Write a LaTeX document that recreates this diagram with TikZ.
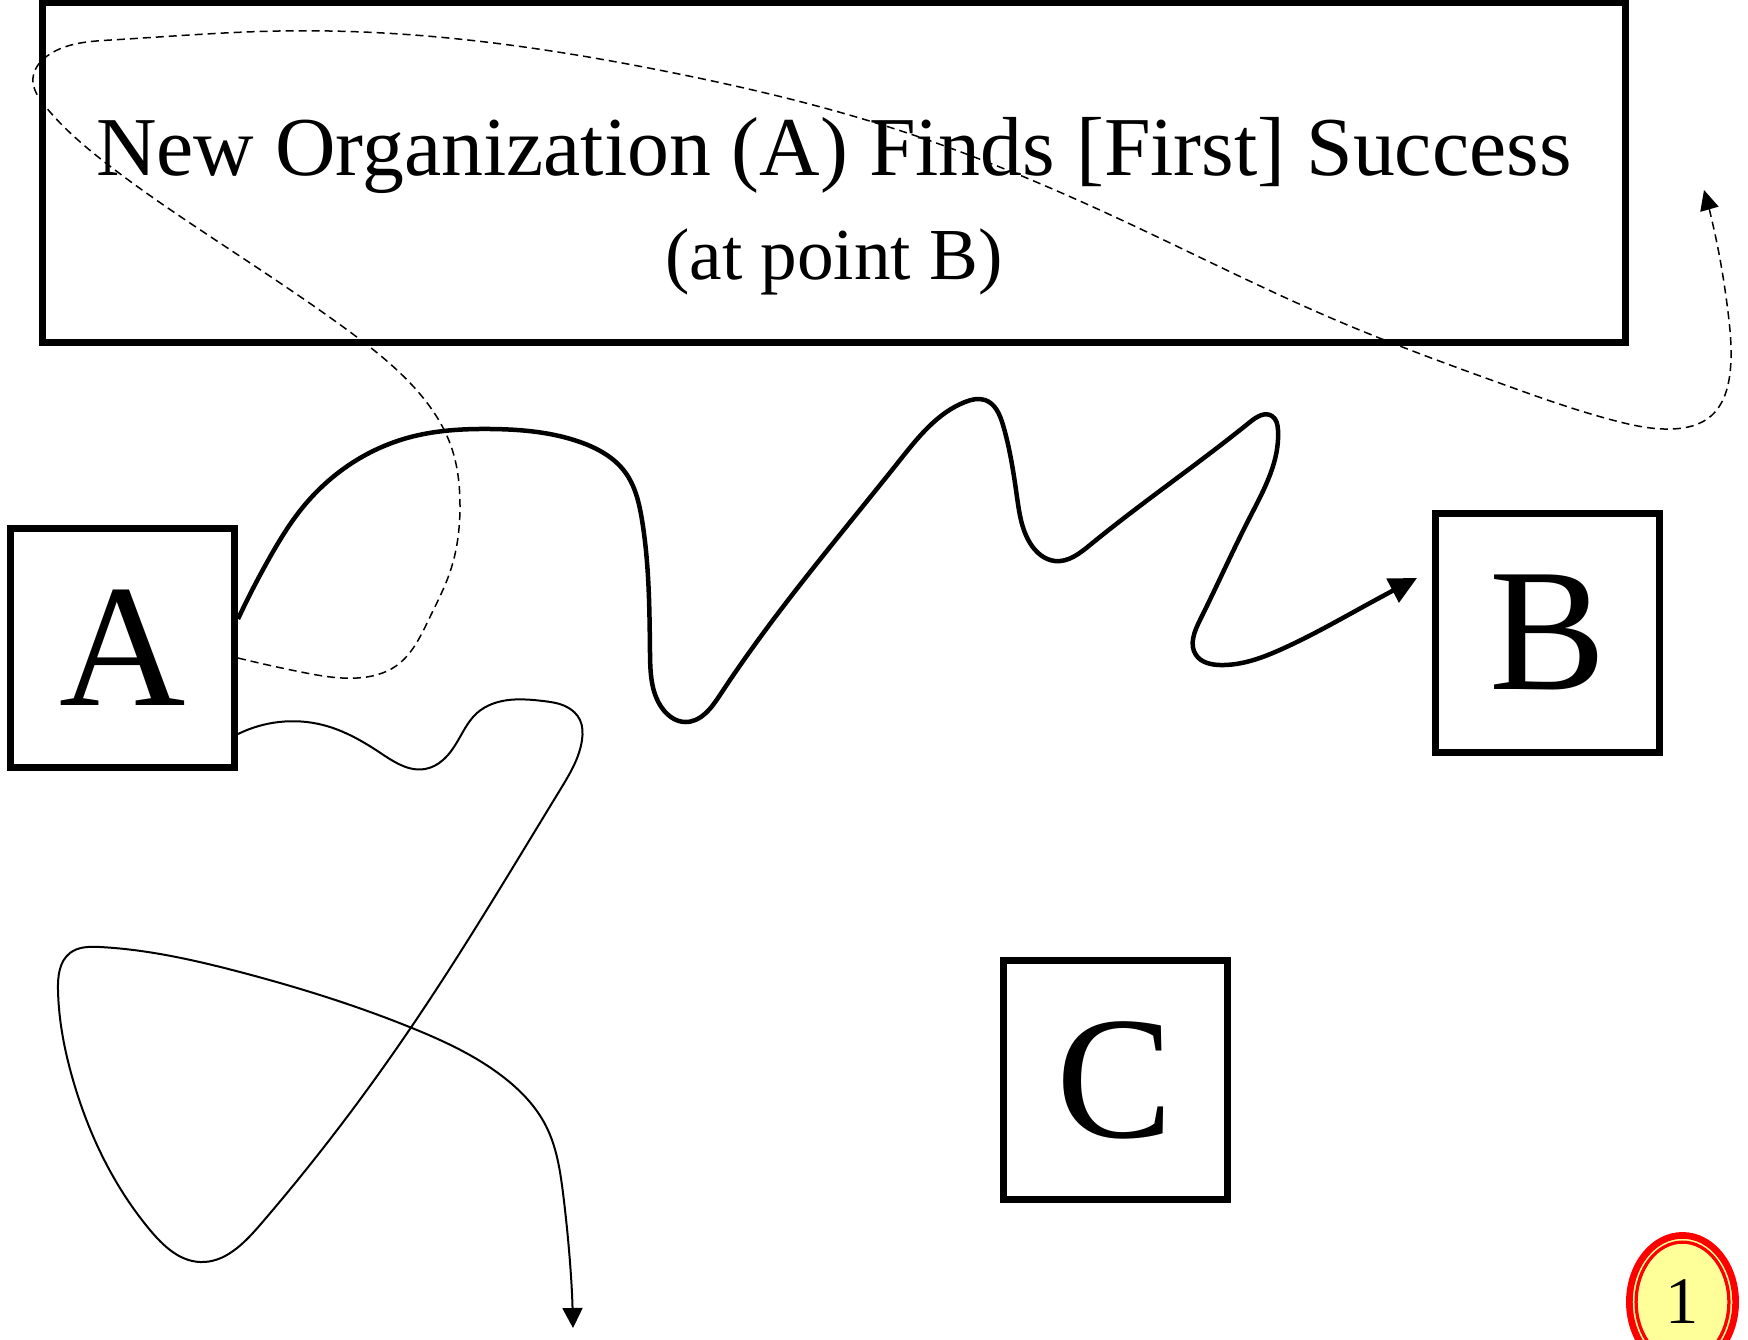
\documentclass[tikz,border=0pt]{standalone}
\usepackage{fontspec}
\setmainfont{Liberation Serif}
\usetikzlibrary{arrows.meta,shapes.geometric,hobby}
\definecolor{badgefill}{HTML}{FFFF99}
\tikzset{
  box/.style={draw, line width=2.8pt, rectangle, inner sep=0pt, minimum width=89.6pt, minimum height=95.6pt, font=\fontsize{70}{70}\selectfont},
  thickpath/.style={line width=1.8pt, line join=round, -{Triangle[length=11pt,width=10.5pt]}},
  thinpath/.style={line width=0.8pt, -{Triangle[length=8pt,width=8pt]}},
  dashpath/.style={line width=0.6pt, dash pattern=on 3.2pt off 2pt, -{Triangle[length=8pt,width=7.5pt]}}
}
\begin{document}
\begin{tikzpicture}[x=0.4pt,y=-0.4pt]
\useasboundingbox (0,0) rectangle (1748,1340);
% title box
\node[draw, line width=2.8pt, inner sep=0pt, minimum width=633pt, minimum height=136pt] (title) at (834,172) {};
\node[anchor=base, font=\fontsize{33.5}{34}\selectfont] (t1) at (834,175) {New Organization (A) Finds [First] Success};
\node[anchor=base, font=\fontsize{29.3}{30}\selectfont] (t2) at (834,279) {(at point B)};
% boxes
\node[box] (A) at (122.5,648) {A};
\node[box] (B) at (1547.5,632.5) {B};
\node[box] (C) at (1115,1080) {C};
% badge
\node[ellipse, fill=badgefill, draw=red, line width=2.68pt, inner sep=0pt, minimum width=42.5pt, minimum height=53.3pt, font=\fontsize{26.6}{27}\selectfont] (badge) at (1682.5,1302) {1};
\draw[red, line width=1.3pt] (badge.center) ellipse [x radius=46.4, y radius=59.9];
% connector endpoints
\coordinate (s1) at ([yshift=11.6pt]A.east);
\coordinate (s2) at ([yshift=-4pt]A.east);
\coordinate (s3) at ([yshift=-34.4pt]A.east);
\coordinate (e1) at (1417,578);
\coordinate (e2) at (1704,190);
\coordinate (e3) at (573,1328);
% thick wiggly path A -> B
\draw[use Hobby shortcut, thickpath] (s1) .. (270,557) .. (303,507) .. (407,438) .. (491,429)
 .. (580,442) .. (625,472) .. (642,520) .. (650,653) .. (662,708) .. (685,722) .. (720,695)
 .. (900,460) .. (965,402) .. (985,400) .. (1003,425) .. (1017,497) .. (1030,543)
 .. (1055,561) .. (1090,545) .. (1250,422) .. (1272,416) .. (1278,430) .. (1250,517)
 .. (1200,620) .. (1196,655) .. (1220,665) .. (1282,649) .. (1370,603) .. (e1);
% dashed loop path
\draw[use Hobby shortcut, dashpath] (s2) .. (301,672) .. (357,678) .. (396,666) .. (429,619)
 .. (451,569) .. (460,507) .. (451,446) .. (412,385) .. (346,329) .. (223,245) .. (111,167)
 .. (45,106) .. (33,78) .. (50,54) .. (111,40) .. (279,31) .. (468,40) .. (669,72) .. (892,128)
 .. (1115,217) .. (1338,321) .. (1505,385) .. (1616,421) .. (1672,429) .. (1711,416)
 .. (1730,373) .. (1728,312) .. (1715,234) .. (e2);
% thin wandering path
\draw[use Hobby shortcut, thinpath] (s3) .. (279,722) .. (323,725) .. (379,752) .. (425,769)
 .. (443,760) .. (460,737) .. (477,713) .. (492,704) .. (543,701) .. (567,707) .. (580,720)
 .. (582,740) .. (560,790) .. (412,1026) .. (260,1225) .. (200,1262) .. (150,1230)
 .. (73,1080) .. (58,990) .. (70,953) .. (100,947) .. (240,972) .. (412,1028) .. (502,1076)
 .. (546,1126) .. (563,1193) .. (e3);
\end{tikzpicture}
\end{document}
